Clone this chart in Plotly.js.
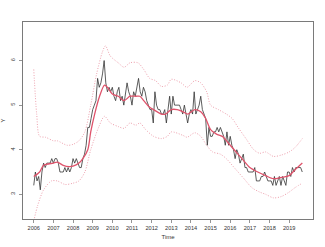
<!DOCTYPE html>
<html><head><meta charset="utf-8">
<script src="https://cdn.plot.ly/plotly-3.0.1.min.js"></script>
<style>html,body{margin:0;padding:0;background:#fff}#chart{width:325px;height:247px}</style>
</head><body><div id="chart"></div>
<script>
// Observed monthly series, Jan 2006 – Sep 2019
const startYear = 2006;
const observed = [
  3.2,3.5,3.3,3.4,3.1,3.5,3.7,3.6,3.7,3.7,3.7,3.8,
  3.7,3.8,3.8,3.7,3.5,3.5,3.5,3.6,3.5,3.6,3.5,3.6,
  3.8,3.7,3.8,3.7,3.6,3.6,3.8,3.9,4.1,4.5,4.5,4.7,
  4.9,5.0,5.1,5.6,5.4,5.5,5.7,6.0,5.5,5.3,5.4,5.3,
  5.4,5.2,5.1,5.3,5.4,5.1,5.2,5.0,5.3,5.5,5.3,5.2,
  5.0,5.3,5.2,5.4,5.6,5.3,5.2,5.4,5.3,5.1,5.0,4.9,
  4.9,4.6,5.3,5.0,4.9,4.9,4.8,4.8,4.9,4.6,4.9,5.2,
  4.8,5.2,5.0,5.0,5.0,5.0,4.9,4.8,5.0,4.8,4.6,4.8,
  4.9,4.8,5.3,4.8,4.9,5.0,5.2,4.9,4.8,4.7,4.1,4.5,
  4.3,4.3,4.4,4.4,4.5,4.4,4.5,4.4,4.3,4.1,4.4,4.1,
  4.3,4.1,4.0,3.8,4.0,3.9,3.7,3.8,3.9,3.6,3.6,3.5,
  3.5,3.5,3.5,3.6,3.3,3.3,3.3,3.4,3.4,3.5,3.4,3.3,
  3.3,3.3,3.2,3.4,3.2,3.3,3.4,3.2,3.4,3.3,3.2,3.5,
  3.5,3.4,3.6,3.5,3.6,3.6,3.6,3.6,3.5
];
// Smoothed level (read at these times)
const smoothT = [2006.0,2006.3,2006.5,2007.0,2007.2,2007.5,2007.8,2008.0,2008.3,2008.5,2008.75,2008.9,2009.1,2009.35,2009.6,2009.75,2010.0,2010.3,2010.6,2010.9,2011.2,2011.4,2011.6,2011.9,2012.1,2012.5,2012.7,2013.0,2013.3,2013.6,2013.85,2014.2,2014.5,2014.75,2015.0,2015.3,2015.6,2015.9,2016.2,2016.6,2017.0,2017.4,2017.8,2018.2,2018.6,2019.0,2019.3,2019.67];
const smoothV = [3.4,3.5,3.65,3.7,3.72,3.65,3.62,3.63,3.7,3.8,4.0,4.4,4.8,5.2,5.45,5.4,5.25,5.2,5.1,5.2,5.2,5.2,5.1,4.95,4.9,4.8,4.8,4.9,4.9,4.85,4.8,4.9,4.85,4.7,4.45,4.35,4.3,4.15,4.0,3.8,3.6,3.5,3.42,3.35,3.38,3.42,3.55,3.7];
// Upper band
const upperT = [2006.0,2006.15,2006.3,2006.6,2007.0,2007.2,2007.7,2008.0,2008.3,2008.6,2008.9,2009.2,2009.5,2009.65,2009.9,2010.3,2010.6,2010.9,2011.3,2011.6,2011.9,2012.2,2012.5,2012.8,2013.0,2013.5,2013.8,2014.2,2014.5,2014.8,2015.0,2015.4,2015.8,2016.1,2016.4,2016.8,2017.2,2017.5,2017.8,2018.2,2018.6,2019.0,2019.3,2019.67];
const upperV = [5.8,4.8,4.3,4.28,4.2,4.2,4.1,4.12,4.2,4.4,5.0,5.7,6.2,6.33,6.1,5.95,5.85,5.95,5.95,5.8,5.6,5.55,5.42,5.45,5.58,5.5,5.4,5.55,5.5,5.3,5.0,4.9,4.8,4.7,4.5,4.25,4.0,3.92,3.95,3.85,3.88,3.95,4.05,4.25];
// Lower band
const lowerT = [2006.0,2006.2,2006.5,2006.9,2007.2,2007.6,2008.0,2008.3,2008.6,2008.9,2009.3,2009.6,2009.9,2010.3,2010.6,2010.9,2011.2,2011.4,2011.7,2012.1,2012.5,2012.8,2013.0,2013.6,2013.8,2014.2,2014.5,2014.8,2015.1,2015.5,2015.8,2016.2,2016.7,2017.1,2017.5,2017.8,2018.2,2018.6,2019.0,2019.3,2019.67];
const lowerV = [2.4,2.75,3.1,3.3,3.3,3.22,3.25,3.3,3.5,4.0,4.5,4.75,4.6,4.52,4.48,4.6,4.55,4.6,4.45,4.3,4.25,4.3,4.4,4.32,4.28,4.38,4.3,4.1,3.95,3.9,3.8,3.6,3.35,3.15,3.05,3.0,2.92,2.95,3.05,3.15,3.25];
const yearTicks = [2006,2007,2008,2009,2010,2011,2012,2013,2014,2015,2016,2017,2018,2019];
const yTicks = [3,4,5,6];

const obsT = observed.map((_, i) => startYear + i / 12);
const pink = 'rgba(223,83,107,0.55)';
const traces = [
  {x: upperT, y: upperV, mode: 'lines', line: {color: pink, width: 1, dash: '1px,1.6px', shape: 'spline', smoothing: 0.8}, hoverinfo: 'skip'},
  {x: lowerT, y: lowerV, mode: 'lines', line: {color: pink, width: 1, dash: '1px,1.6px', shape: 'spline', smoothing: 0.8}, hoverinfo: 'skip'},
  {x: obsT, y: observed, mode: 'lines', line: {color: '#333333', width: 0.8}},
  {x: smoothT, y: smoothV, mode: 'lines', line: {color: '#DF536B', width: 1.3, shape: 'spline', smoothing: 0.8}}
];
const font = {family: 'Liberation Sans, Arial, sans-serif', size: 5.6, color: '#333'};
const layout = {
  width: 325, height: 247,
  margin: {l: 23, r: 12, t: 22, b: 28},
  paper_bgcolor: '#fff', plot_bgcolor: '#fff',
  showlegend: false,
  font: font,
  xaxis: {
    range: [2005.453, 2020.213], tickvals: yearTicks, ticktext: yearTicks.map(String),
    showgrid: false, zeroline: false, showline: true, mirror: true, linecolor: '#7a7a7a', linewidth: 1,
    ticks: 'outside', ticklen: 3, tickcolor: '#7a7a7a', tickwidth: 0.8, tickfont: font,
    title: {text: 'Time', font: {family: font.family, size: 6, color: '#333'}, standoff: 5}
  },
  yaxis: {
    range: [2.446, 6.865], tickvals: yTicks, ticktext: yTicks.map(String), tickangle: -90,
    ticklabelstandoff: 2,
    showgrid: false, zeroline: false, showline: true, mirror: true, linecolor: '#7a7a7a', linewidth: 1,
    ticks: 'outside', ticklen: 3, tickcolor: '#7a7a7a', tickwidth: 0.8, tickfont: font,
    title: {text: 'Y', font: {family: font.family, size: 6, color: '#333'}, standoff: 4}
  }
};
Plotly.newPlot('chart', traces, layout, {staticPlot: true, displayModeBar: false});
</script></body></html>
